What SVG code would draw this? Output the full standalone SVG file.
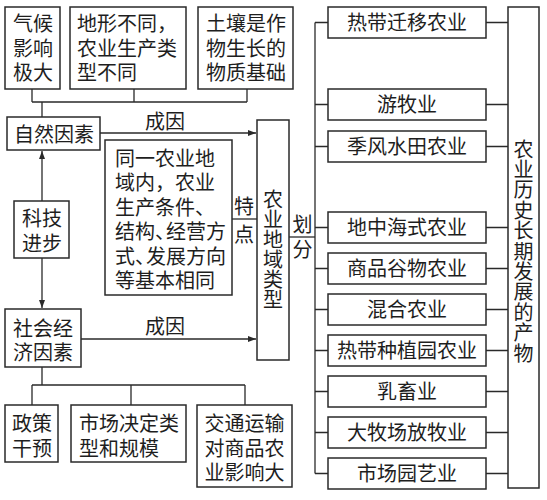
<svg xmlns="http://www.w3.org/2000/svg" width="547" height="500" viewBox="0 0 547 500">
<style>
text{font-family:"Noto Sans CJK SC","Noto Sans CJK JP",sans-serif;font-size:20px;fill:#1e1e1e}
.box{fill:#fff;stroke:#2a2a2a;stroke-width:1.5}
.ln{fill:none;stroke:#2a2a2a;stroke-width:1.3}
.m{text-anchor:middle}
.v{writing-mode:vertical-rl}
</style>
<defs>
<marker id="ah" markerUnits="userSpaceOnUse" markerWidth="9" markerHeight="8" refX="8" refY="4" orient="auto">
<path d="M0,1 L8,4 L0,7 Z" fill="#2a2a2a"/>
</marker>
</defs>
<rect width="547" height="500" fill="#fff"/>

<g id="connectors">
<path class="ln" d="M32,89V102M134,89V102M247,89V102M32,102H247M42,102V117"/>
<path class="ln" d="M100,133H256" marker-end="url(#ah)"/>
<path class="ln" d="M42,201V151" marker-end="url(#ah)"/>
<path class="ln" d="M42,258V308" marker-end="url(#ah)"/>
<path class="ln" d="M81,339H256" marker-end="url(#ah)"/>
<path class="ln" d="M232,219H257"/>
<path class="ln" d="M289,237H315"/>
<path class="ln" d="M315,22.5V473.5"/>
<path class="ln" d="M315,22.5H328M315,104.5H328M315,146.5H328M315,227.5H328M315,268.5H328M315,309.5H328M315,350.5H328M315,391.5H328M315,432.5H328M315,473.5H328"/>
<path class="ln" d="M486,22.5H508M486,104.5H508M486,146.5H508M486,227.5H508M486,268.5H508M486,309.5H508M486,350.5H508M486,391.5H508M486,432.5H508M486,473.5H508"/>
<path class="ln" d="M42,367V385M32,385H245M32,385V405M131,385V405M245,385V405"/>
<text class="m" x="165" y="128.5">成因</text>
<text class="m" x="165" y="334">成因</text>
<text class="m" x="244" y="213.5">特</text>
<text class="m" x="244" y="241.5">点</text>
<text class="m" x="302.5" y="231.5">划</text>
<text class="m" x="302.5" y="257">分</text>
</g>

<g id="climate">
<rect class="box" x="5" y="7" width="55" height="82"/>
<text class="m"><tspan x="33" y="31">气候</tspan><tspan x="33" y="55.5">影响</tspan><tspan x="33" y="80">极大</tspan></text>
</g>
<g id="terrain">
<rect class="box" x="70" y="7" width="116" height="82"/>
<text><tspan x="77" y="31">地形不同，</tspan><tspan x="77" y="55.5">农业生产类</tspan><tspan x="77" y="80">型不同</tspan></text>
</g>
<g id="soil">
<rect class="box" x="198" y="7" width="95" height="82"/>
<text><tspan x="206" y="31">土壤是作</tspan><tspan x="206" y="55.5">物生长的</tspan><tspan x="206" y="80">物质基础</tspan></text>
</g>
<g id="natural">
<rect class="box" x="7" y="117" width="93" height="33"/>
<text class="m" x="54" y="141.5">自然因素</text>
</g>
<g id="feature">
<rect class="box" x="105" y="140" width="127" height="155"/>
<text><tspan x="115" y="165.5">同一农业地</tspan><tspan x="115" y="190">域内，农业</tspan><tspan x="115" y="214.5">生产条件、</tspan><tspan x="115" y="239">结构、</tspan><tspan dx="-9">经营方</tspan><tspan x="115" y="263.5">式、</tspan><tspan dx="-9">发展方向</tspan><tspan x="115" y="288">等基本相同</tspan></text>
</g>
<g id="tech">
<rect class="box" x="14" y="201" width="55" height="57"/>
<text class="m"><tspan x="42" y="226">科技</tspan><tspan x="42" y="251">进步</tspan></text>
</g>
<g id="social">
<rect class="box" x="5" y="309" width="76" height="58"/>
<text class="m"><tspan x="43" y="335.5">社会经</tspan><tspan x="43" y="359.5">济因素</tspan></text>
</g>
<g id="policy">
<rect class="box" x="5" y="405" width="53" height="57"/>
<text class="m"><tspan x="32" y="431">政策</tspan><tspan x="32" y="455.5">干预</tspan></text>
</g>
<g id="market">
<rect class="box" x="71" y="405" width="115" height="57"/>
<text><tspan x="79" y="431">市场决定类</tspan><tspan x="79" y="455.5">型和规模</tspan></text>
</g>
<g id="transport">
<rect class="box" x="197" y="405" width="95" height="82"/>
<text class="m"><tspan x="244.5" y="431">交通运输</tspan><tspan x="244.5" y="455.5">对商品农</tspan><tspan x="244.5" y="480">业影响大</tspan></text>
</g>
<g id="regiontype">
<rect class="box" x="257" y="120" width="32" height="240"/>
<text class="v" x="273" y="189">农业地域类型</text>
</g>
<g id="t1"><rect class="box" x="328" y="7" width="158" height="31"/><text class="m" x="407" y="29.5">热带迁移农业</text></g>
<g id="t2"><rect class="box" x="328" y="89" width="158" height="31"/><text class="m" x="407" y="111.5">游牧业</text></g>
<g id="t3"><rect class="box" x="328" y="131" width="158" height="31"/><text class="m" x="407" y="153.5">季风水田农业</text></g>
<g id="t4"><rect class="box" x="328" y="212" width="158" height="31"/><text class="m" x="407" y="234.5">地中海式农业</text></g>
<g id="t5"><rect class="box" x="328" y="253" width="158" height="31"/><text class="m" x="407" y="275.5">商品谷物农业</text></g>
<g id="t6"><rect class="box" x="328" y="294" width="158" height="31"/><text class="m" x="407" y="316.5">混合农业</text></g>
<g id="t7"><rect class="box" x="328" y="335" width="158" height="31"/><text class="m" x="407" y="357.5">热带种植园农业</text></g>
<g id="t8"><rect class="box" x="328" y="376" width="158" height="31"/><text class="m" x="407" y="398.5">乳畜业</text></g>
<g id="t9"><rect class="box" x="328" y="417" width="158" height="31"/><text class="m" x="407" y="439.5">大牧场放牧业</text></g>
<g id="t10"><rect class="box" x="328" y="458" width="158" height="31"/><text class="m" x="407" y="480.5">市场园艺业</text></g>
<g id="history">
<rect class="box" x="508" y="7" width="31" height="481"/>
<text class="v" x="523.5" y="139" letter-spacing="0.4">农业历史长期发展的产物</text>
</g>
</svg>
